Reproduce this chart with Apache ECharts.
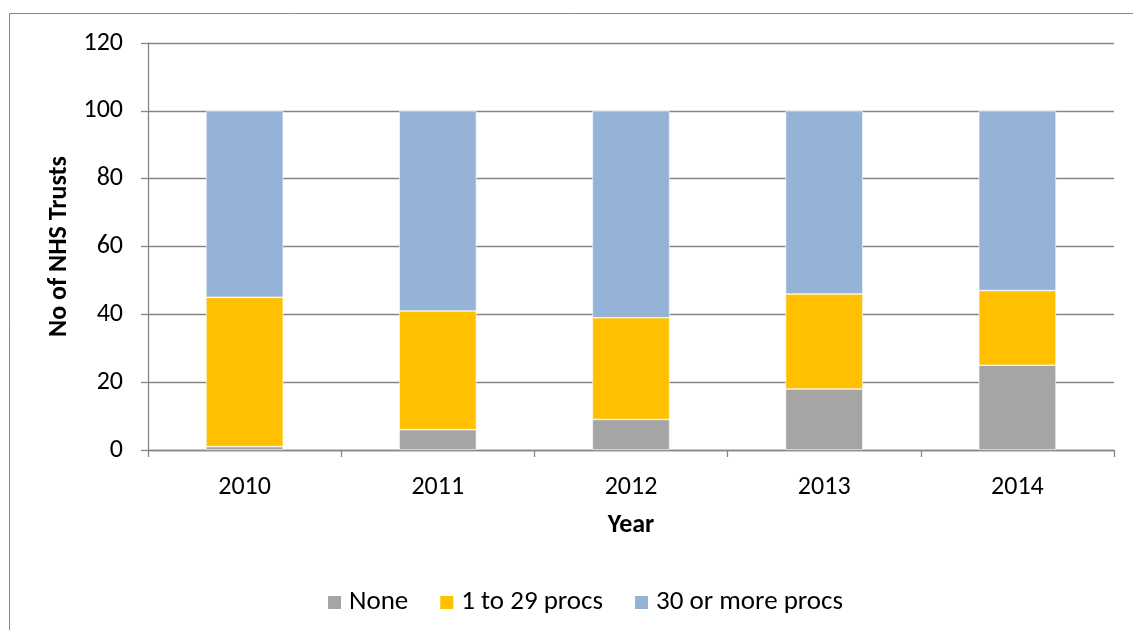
<!DOCTYPE html>
<html><head><meta charset="utf-8">
<script src="https://cdn.jsdelivr.net/npm/echarts@6/dist/echarts.min.js"></script>
<style>html,body{margin:0;padding:0;background:#fff}#c{width:1133px;height:630px}</style>
</head><body><div id="c"></div>
<script>
var years = ['2010','2011','2012','2013','2014'];
var none = [1, 6, 9, 18, 25];
var low = [44, 35, 30, 28, 22];
var high = [55, 59, 61, 54, 53];
var yTicks = [0, 20, 40, 60, 80, 100, 120];

var font = 'Carlito, Lato, "Open Sans", sans-serif';
var fs = 26;
var chart = echarts.init(document.getElementById('c'));
function s(name, data, color){
  return {name:name, type:'bar', stack:'a', data:data, barWidth:'40%',
    itemStyle:{color:color, borderColor:'#ffffff', borderWidth:0.6}, animation:false};
}
chart.setOption({
  animation:false,
  textStyle:{fontFamily:font},
  graphic:[{type:'rect', shape:{x:9.5, y:13.5, width:1200, height:700}, style:{fill:'none', stroke:'#888', lineWidth:1}, z:-1}],
  grid:{left:148, right:19, top:43, bottom:180},
  legend:{top:584, left:321, itemWidth:15, itemHeight:15, itemGap:30, icon:'rect',
    textStyle:{fontSize:27, color:'#000', fontFamily:font, padding:[0,0,0,2]}},
  xAxis:{type:'category', data:years, name:'Year', nameLocation:'middle', nameGap:62,
    nameTextStyle:{fontSize:fs, fontWeight:'bold', color:'#000', fontFamily:font},
    axisLine:{lineStyle:{color:'#868686', width:1.3}},
    axisTick:{show:true, length:7, lineStyle:{color:'#868686', width:1.3}},
    axisLabel:{fontSize:fs, color:'#000', margin:24, fontFamily:font}},
  yAxis:{type:'value', min:0, max:120, interval:20, name:'No of NHS Trusts', nameLocation:'middle', nameGap:74,
    nameTextStyle:{fontSize:fs, fontWeight:'bold', color:'#000', fontFamily:font},
    axisLine:{show:true, lineStyle:{color:'#868686', width:1.3}},
    axisTick:{show:true, length:7, lineStyle:{color:'#868686', width:1.3}},
    splitLine:{lineStyle:{color:'#868686', width:1.3}},
    axisLabel:{fontSize:fs, color:'#000', margin:25, fontFamily:font,
      formatter:function(v){return yTicks.indexOf(v)>=0 ? String(v) : '';}}},
  series:[s('None', none, '#A5A5A5'), s('1 to 29 procs', low, '#FFC000'), s('30 or more procs', high, '#95B3D7')]
});
</script></body></html>
